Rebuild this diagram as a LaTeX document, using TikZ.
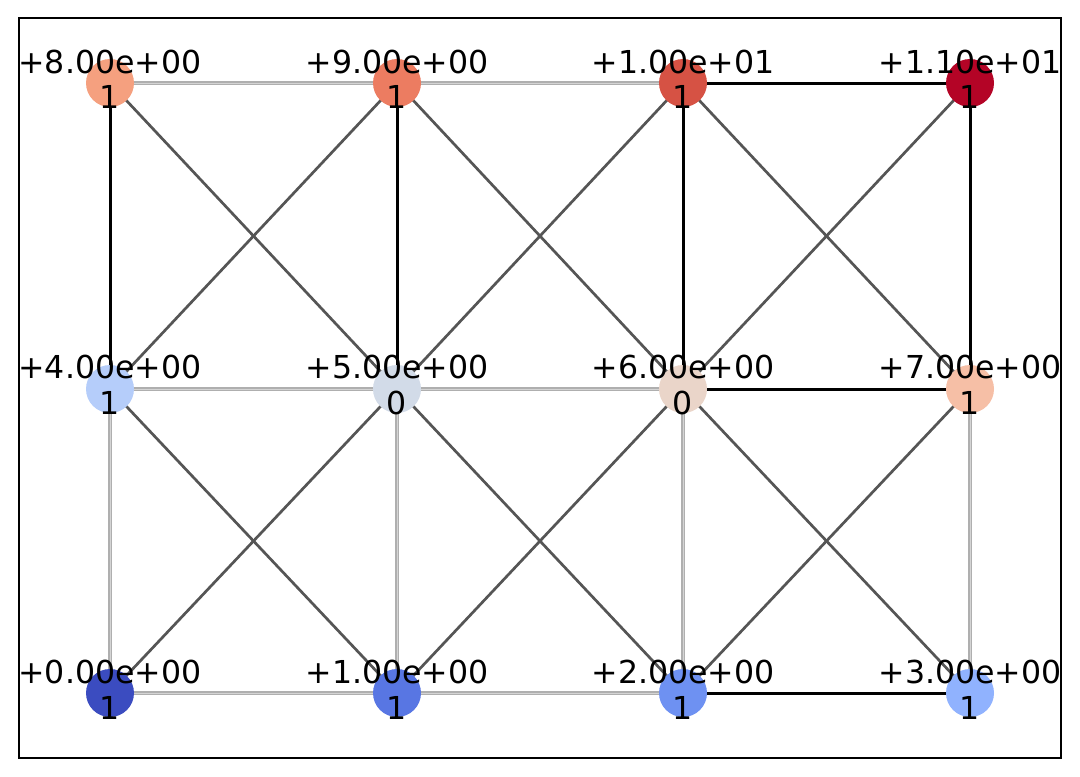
\documentclass[tikz,border=0pt]{standalone}
\usepackage{fontspec}
\setmainfont{DejaVu Sans}
\definecolor{c0}{RGB}{59,76,192}
\definecolor{c1}{RGB}{88,118,227}
\definecolor{c2}{RGB}{110,145,242}
\definecolor{c3}{RGB}{144,178,254}
\definecolor{c4}{RGB}{181,205,250}
\definecolor{c5}{RGB}{210,219,232}
\definecolor{c6}{RGB}{234,213,201}
\definecolor{c7}{RGB}{246,191,166}
\definecolor{c8}{RGB}{245,160,127}
\definecolor{c9}{RGB}{236,124,97}
\definecolor{c10}{RGB}{214,82,68}
\definecolor{c11}{RGB}{180,4,38}
\definecolor{diag}{RGB}{85,85,85}
\definecolor{lightE}{RGB}{175,175,175}
\definecolor{lightC}{RGB}{212,212,212}
\tikzset{
  vtx/.style={circle, inner sep=0pt, minimum size=48pt, draw=none},
  lab/.style={inner sep=0pt, anchor=base, font=\fontsize{31.6}{36}\selectfont},
  blk/.style={draw=black, line width=3pt},
  dg/.style={draw=diag, line width=2.7pt},
  lt/.style={draw=lightE, line width=3.2pt, postaction={draw=lightC, line width=1pt}},
}
\begin{document}
\begin{tikzpicture}[x=1pt,y=-1pt]
\useasboundingbox (0,0) rectangle (1080,777);
\fill[white] (0,0) rectangle (1080,777);
% node positions
\coordinate (p0) at (110,693);
\coordinate (p1) at (397,693);
\coordinate (p2) at (683,693);
\coordinate (p3) at (970,693);
\coordinate (p4) at (110,389);
\coordinate (p5) at (397,389);
\coordinate (p6) at (683,389);
\coordinate (p7) at (970,389);
\coordinate (p8) at (110,83);
\coordinate (p9) at (397,83);
\coordinate (p10) at (683,83);
\coordinate (p11) at (970,83);
% edges
\draw[lt] (p8) -- (p9);
\draw[lt] (p9) -- (p10);
\draw[lt] (p4) -- (p5);
\draw[lt] (p5) -- (p6);
\draw[lt] (p0) -- (p1);
\draw[lt] (p1) -- (p2);
\draw[lt] (p4) -- (p0);
\draw[lt] (p5) -- (p1);
\draw[lt] (p6) -- (p2);
\draw[lt] (p7) -- (p3);
\draw[dg] (p8) -- (p5);
\draw[dg] (p9) -- (p4);
\draw[dg] (p9) -- (p6);
\draw[dg] (p10) -- (p5);
\draw[dg] (p10) -- (p7);
\draw[dg] (p11) -- (p6);
\draw[dg] (p4) -- (p1);
\draw[dg] (p5) -- (p0);
\draw[dg] (p5) -- (p2);
\draw[dg] (p6) -- (p1);
\draw[dg] (p6) -- (p3);
\draw[dg] (p7) -- (p2);
\draw[blk] (p8) -- (p4);
\draw[blk] (p9) -- (p5);
\draw[blk] (p10) -- (p6);
\draw[blk] (p11) -- (p7);
\draw[blk] (p10) -- (p11);
\draw[blk] (p6) -- (p7);
\draw[blk] (p2) -- (p3);
% vertices
\foreach \i in {0,...,11} {
  \node[vtx, fill=c\i] (n\i) at (p\i) {};
}
% labels
\node[lab] (t0) at ([yshift=10pt]p0) {+0.00e+00};
\node[lab] (b0) at ([yshift=-26pt]p0) {1};
\node[lab] (t1) at ([yshift=10pt]p1) {+1.00e+00};
\node[lab] (b1) at ([yshift=-26pt]p1) {1};
\node[lab] (t2) at ([yshift=10pt]p2) {+2.00e+00};
\node[lab] (b2) at ([yshift=-26pt]p2) {1};
\node[lab] (t3) at ([yshift=10pt]p3) {+3.00e+00};
\node[lab] (b3) at ([yshift=-26pt]p3) {1};
\node[lab] (t4) at ([yshift=11pt]p4) {+4.00e+00};
\node[lab] (b4) at ([yshift=-25pt]p4) {1};
\node[lab] (t5) at ([yshift=11pt]p5) {+5.00e+00};
\node[lab] (b5) at ([yshift=-25pt]p5) {0};
\node[lab] (t6) at ([yshift=11pt]p6) {+6.00e+00};
\node[lab] (b6) at ([yshift=-25pt]p6) {0};
\node[lab] (t7) at ([yshift=11pt]p7) {+7.00e+00};
\node[lab] (b7) at ([yshift=-25pt]p7) {1};
\node[lab] (t8) at ([yshift=10pt]p8) {+8.00e+00};
\node[lab] (b8) at ([yshift=-25pt]p8) {1};
\node[lab] (t9) at ([yshift=10pt]p9) {+9.00e+00};
\node[lab] (b9) at ([yshift=-25pt]p9) {1};
\node[lab] (t10) at ([yshift=10pt]p10) {+1.00e+01};
\node[lab] (b10) at ([yshift=-25pt]p10) {1};
\node[lab] (t11) at ([yshift=10pt]p11) {+1.10e+01};
\node[lab] (b11) at ([yshift=-25pt]p11) {1};
% frame
\draw[black, line width=1.8pt] (19,18) rectangle (1061,758);
\end{tikzpicture}
\end{document}
